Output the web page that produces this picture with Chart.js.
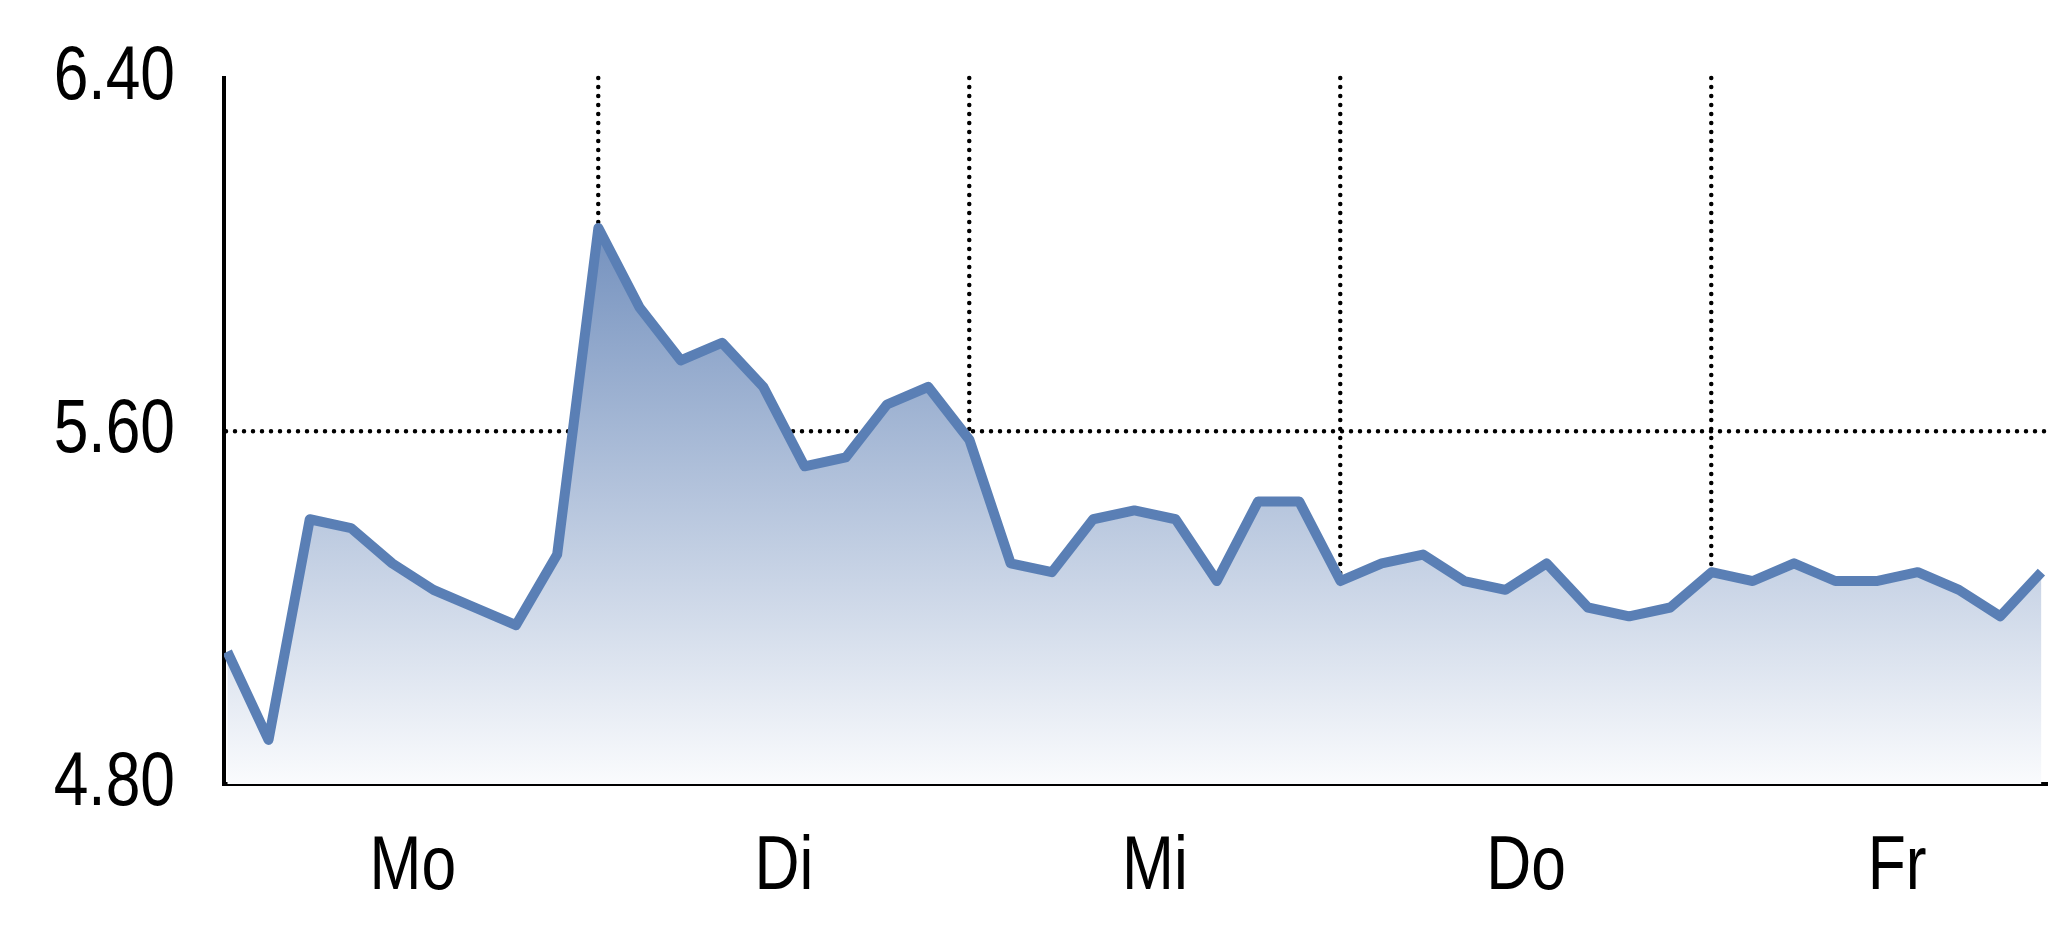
<!DOCTYPE html>
<html>
<head>
<meta charset="utf-8">
<script src="https://cdn.jsdelivr.net/npm/chart.js@4.4.1/dist/chart.umd.min.js"></script>
<style>
  html, body { margin: 0; padding: 0; background: #ffffff; }
  canvas { display: block; }
</style>
</head>
<body>
<canvas id="c" width="2048" height="937"></canvas>
<script>
// ---- data ----
const days = ['Mo', 'Di', 'Mi', 'Do', 'Fr'];
const pointsPerDay = 9;
const moValues = [5.10, 4.90, 5.40, 5.38, 5.30, 5.24, 5.20, 5.16, 5.32];
const diValues = [6.06, 5.88, 5.76, 5.80, 5.70, 5.52, 5.54, 5.66, 5.70];
const miValues = [5.58, 5.30, 5.28, 5.40, 5.42, 5.40, 5.26, 5.44, 5.44];
const doValues = [5.26, 5.30, 5.32, 5.26, 5.24, 5.30, 5.20, 5.18, 5.20];
const frValues = [5.28, 5.26, 5.30, 5.26, 5.26, 5.28, 5.24, 5.18, 5.28];
const yTicks = [4.80, 5.60, 6.40];

const values = [].concat(moValues, diValues, miValues, doValues, frValues);
const points = values.map((v, i) => ({ x: i, y: v }));
const maxValue = Math.max(...values);

// x ticks: day boundaries (grid lines) and day centres (labels)
const xTickValues = [];
days.forEach((d, i) => {
  xTickValues.push(i * pointsPerDay + pointsPerDay / 2);
  if (i < days.length - 1) xTickValues.push((i + 1) * pointsPerDay);
});
const isBoundary = v => Math.abs(v % pointsPerDay) < 1e-9;

// narrow-font look: condense tick label text horizontally; round dotted grid
const narrowPlugin = {
  id: 'narrow',
  afterLayout(chart) {
    Object.values(chart.scales).forEach(s => {
      if (s._narrowPatched) return;
      const origLabels = s.drawLabels.bind(s);
      s.drawLabels = function (area) {
        const ctx = this.ctx;
        const of = ctx.fillText;
        ctx.fillText = function (t, x, y, mw) {
          this.save();
          this.translate(x, y);
          this.scale(0.82, 1);
          of.call(this, t, 0, 0);
          this.restore();
        };
        try { origLabels(area); } finally { ctx.fillText = of; }
      };
      const origGrid = s.drawGrid.bind(s);
      s.drawGrid = function (area) {
        const ctx = this.ctx;
        ctx.save();
        ctx.lineCap = 'round';
        try { origGrid(area); } finally { ctx.restore(); }
      };
      s._narrowPatched = true;
    });
  }
};

const tickFont = { family: '"Liberation Sans", Arial, sans-serif', size: 76 };

new Chart(document.getElementById('c'), {
  type: 'line',
  data: {
    datasets: [{
      data: points,
      borderColor: '#5a7fb5',
      borderWidth: 10,
      borderJoinStyle: 'round',
      pointRadius: 0,
      tension: 0,
      fill: 'start',
      backgroundColor: (ctx) => {
        const chart = ctx.chart;
        const area = chart.chartArea;
        if (!area) return 'rgba(120,147,191,0.5)';
        const top = chart.scales.y.getPixelForValue(maxValue);
        const g = chart.ctx.createLinearGradient(0, top, 0, area.bottom);
        g.addColorStop(0, '#7491be');
        g.addColorStop(1, '#fafbfd');
        return g;
      }
    }]
  },
  options: {
    responsive: false,
    devicePixelRatio: 1,
    animation: false,
    layout: { padding: { top: 78, right: 0, bottom: 0, left: 0 } },
    plugins: { legend: { display: false }, tooltip: { enabled: false } },
    scales: {
      x: {
        type: 'linear',
        min: -0.08,
        max: 44.16,
        z: 1,
        afterBuildTicks: (scale) => { scale.ticks = xTickValues.map(v => ({ value: v })); },
        afterFit: (scale) => {
          scale.height = 153;
          scale.paddingLeft = 0; scale.paddingRight = 0;
        },
        grid: {
          drawTicks: false,
          color: '#000000',
          lineWidth: (c) => (c.tick && isBoundary(c.tick.value)) ? 4.5 : 0
        },
        border: { display: true, color: '#000000', width: 4, dash: [0, 9] },
        ticks: {
          autoSkip: false,
          maxRotation: 0,
          padding: 38,
          color: '#000000',
          font: tickFont,
          callback: (v) => isBoundary(v) ? '' : days[Math.floor(v / pointsPerDay)]
        }
      },
      y: {
        type: 'linear',
        min: yTicks[0],
        max: yTicks[yTicks.length - 1],
        z: 1,
        afterBuildTicks: (scale) => { scale.ticks = yTicks.map(v => ({ value: v })); },
        afterFit: (scale) => {
          scale.width = 224;
          scale.paddingTop = 0; scale.paddingBottom = 0;
        },
        grid: {
          drawTicks: false,
          color: '#000000',
          lineWidth: (c) => (c.tick && Math.abs(c.tick.value - yTicks[1]) < 1e-9) ? 4.5 : 0
        },
        border: { display: true, color: '#000000', width: 4, dash: [0, 9] },
        ticks: {
          padding: 49,
          color: '#000000',
          font: tickFont,
          callback: (v) => Number(v).toFixed(2)
        }
      }
    }
  },
  plugins: [narrowPlugin]
});
</script>
</body>
</html>
